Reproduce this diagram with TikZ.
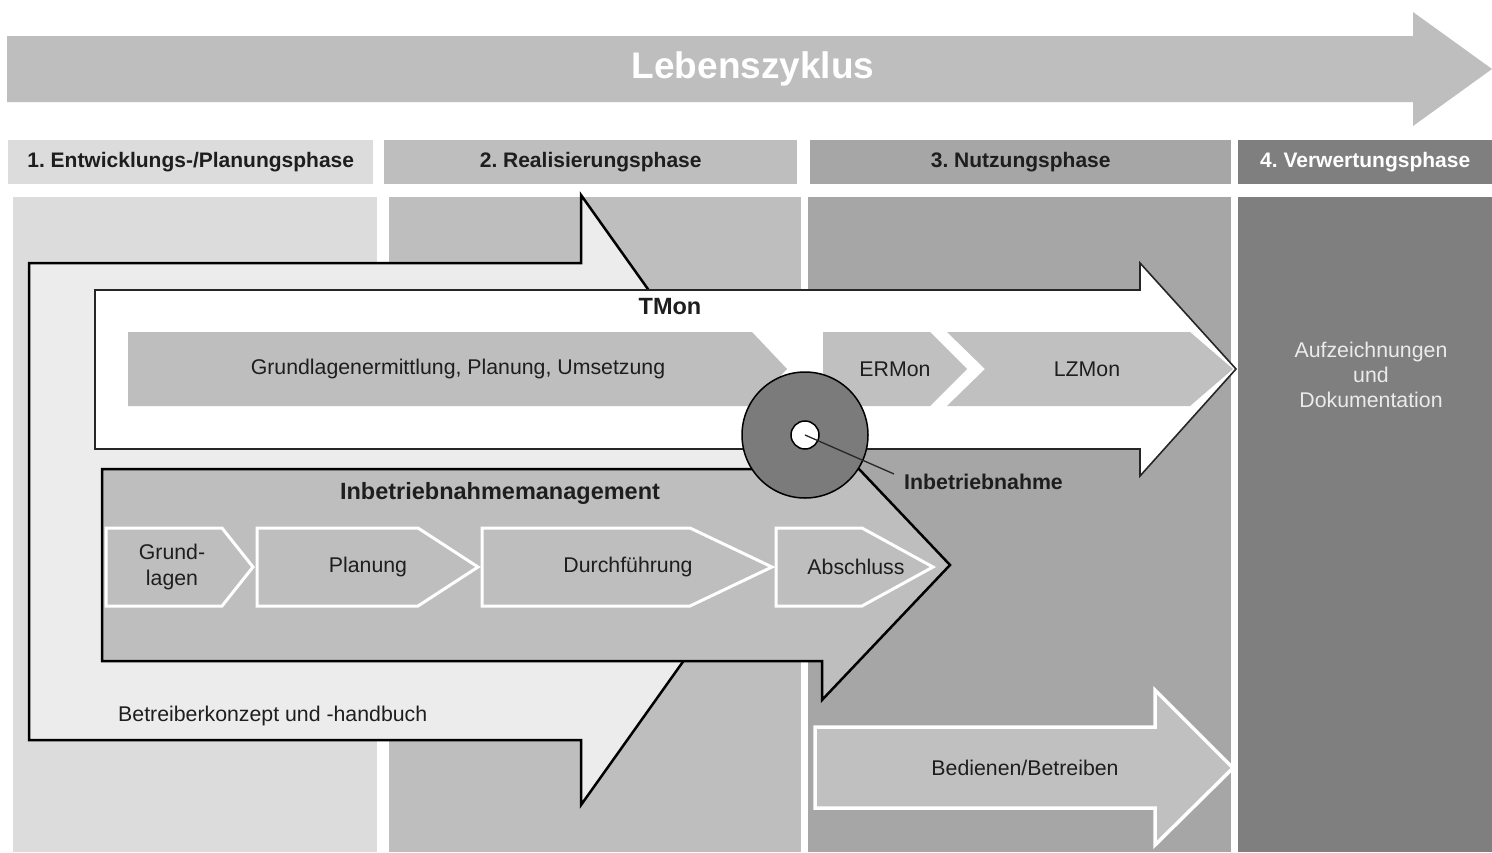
\documentclass[tikz,border=0pt]{standalone}
\usepackage{fontspec}
\setmainfont{Liberation Sans}
\definecolor{gLight}{HTML}{DCDCDC}
\definecolor{gMid}{HTML}{BEBEBE}
\definecolor{gDark}{HTML}{A6A6A6}
\definecolor{gDeep}{HTML}{7F7F7F}
\definecolor{gPale}{HTML}{ECECEC}
\definecolor{gRing}{HTML}{7B7B7B}
\definecolor{ink}{HTML}{1E1E1E}
\frenchspacing
\begin{document}
\begin{tikzpicture}[x=1pt,y=-1pt,
  txt/.style={font=\fontsize{21.3}{26}\selectfont, text=ink, align=center, inner sep=0pt},
  ttl/.style={font=\fontsize{23.5}{26}\selectfont\bfseries, text=ink, inner sep=0pt},
  hdr/.style={font=\fontsize{21}{24}\selectfont\bfseries, text=ink, inner sep=0pt,
    minimum height=44, anchor=west},
  blackarrow/.style={draw=black, line width=2.5, line join=miter},
  chev/.style={draw=white, line width=3, fill=gMid, line join=miter},
]
\useasboundingbox (0,0) rectangle (1492,852);
\fill[white] (0,0) rectangle (1492,852);

% life cycle arrow
\fill[gMid] (7,36) -- (1413,36) -- (1413,12) -- (1492,69) -- (1413,126)
  -- (1413,102) -- (7,102) -- cycle;
\node[font=\fontsize{37}{40}\selectfont\bfseries, text=white, inner sep=0pt]
  (life) at (753,69) {Lebenszyklus};

% phase headers
\node[hdr, fill=gLight, minimum width=365] (p1) at (8,162) {};
\node[hdr, fill=gMid, minimum width=413] (p2) at (384,162) {};
\node[hdr, fill=gDark, minimum width=421] (p3) at (810,162) {};
\node[hdr, fill=gDeep, minimum width=254] (p4) at (1238,162) {};
\node[hdr] (t1) at (p1.center) [anchor=center] {1. Entwicklungs-/Planungsphase};
\node[hdr] (t2) at (p2.center) [anchor=center] {2. Realisierungsphase};
\node[hdr] (t3) at (p3.center) [anchor=center] {3. Nutzungsphase};
\node[hdr, text=white] (t4) at (p4.center) [anchor=center] {4. Verwertungsphase};

% phase columns
\fill[gLight] (13,197) rectangle (377,852);
\fill[gMid] (389,197) rectangle (801,852);
\fill[gDark] (808,197) rectangle (1231,852);
\fill[gDeep] (1238,197) rectangle (1492,852);

% operator concept arrow
\filldraw[blackarrow, fill=gPale] (29,263) -- (581,263) -- (581,195) -- (798,500)
  -- (581,805) -- (581,740) -- (29,740) -- cycle;

% TMon arrow
\filldraw[draw=black!85, line width=1.6, fill=white, line join=miter]
  (95,290) -- (1140,290) -- (1140,263) -- (1236,369) -- (1140,476)
  -- (1140,449) -- (95,449) -- cycle;
\fill[gMid] (128,332) -- (752,332) -- (787,369) -- (752,406) -- (128,406) -- cycle;
\fill[gMid!97!white] (823,332) -- (930,332) -- (967,369) -- (930,406) -- (823,406) -- cycle;
\fill[gMid!97!white] (947,332) -- (1190,332) -- (1233,369) -- (1190,406) -- (947,406)
  -- (985,369) -- cycle;

% commissioning management arrow
\filldraw[blackarrow, fill=gMid] (102,469) -- (822,469) -- (822,430) -- (950,565)
  -- (822,700) -- (822,661) -- (102,661) -- cycle;
\filldraw[chev] (106,528) -- (222,528) -- (253,567) -- (222,606) -- (106,606) -- cycle;
\filldraw[chev] (257,528) -- (418,528) -- (478,567) -- (418,606) -- (257,606) -- cycle;
\filldraw[chev] (482,528) -- (690,528) -- (772,567) -- (690,606) -- (482,606) -- cycle;
\filldraw[chev] (776,528) -- (862,528) -- (933,567) -- (862,606) -- (776,606) -- cycle;

% commissioning milestone
\node[circle, draw=black, line width=1.5, fill=gRing, minimum size=126, inner sep=0pt]
  (ring) at (805,435) {};
\node[circle, draw=black, line width=1.5, fill=white, minimum size=28, inner sep=0pt]
  (hole) at (805,435) {};
\node[ttl, font=\fontsize{21.3}{24}\selectfont\bfseries, anchor=west] (ibn) at (904,482) {Inbetriebnahme};
\draw[black!85, line width=1.3] (hole.center) -- ([shift={(-10,0)}]ibn.north west);

% operation arrow
\filldraw[draw=white, line width=3.5, fill=gMid!97!white, line join=miter]
  (815,727) -- (1155,727) -- (1155,690) -- (1233,768) -- (1155,845)
  -- (1155,808) -- (815,808) -- cycle;

% labels
\node[ttl] (tmon) at (670,307) {TMon};
\node[txt] (glp) at (458,369) {Grundlagenermittlung, Planung, Umsetzung};
\node[txt] (er) at (895,369) {ERMon};
\node[txt] (lz) at (1087,369) {LZMon};
\node[ttl] (ibm) at (500,493) {Inbetriebnahmemanagement};
\node[txt] (gl) at (172,567) {Grund-\\lagen};
\node[txt] (pl) at (368,567) {Planung};
\node[txt] (df) at (628,567) {Durchführung};
\node[txt] (ab) at (856,567) {Abschluss};
\node[txt, anchor=west] (bk) at (118,716) {Betreiberkonzept und -handbuch};
\node[txt] (bb) at (1025,768) {Bedienen/Betreiben};
\node[txt, text=white!92!black, font=\fontsize{21.3}{25}\selectfont] (ad) at (1371,375)
  {Aufzeichnungen\\und\\Dokumentation};
\end{tikzpicture}
\end{document}
